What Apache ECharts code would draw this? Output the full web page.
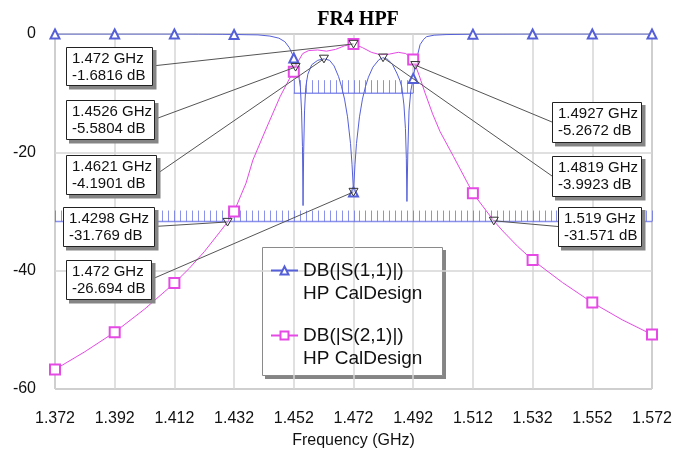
<!DOCTYPE html>
<html><head><meta charset="utf-8">
<script src="https://cdn.jsdelivr.net/npm/echarts@6/dist/echarts.min.js"></script>
<style>html,body{margin:0;padding:0;background:#fff}#c{width:687px;height:454px}</style>
</head><body><div id="c"></div>
<script>
// ---------------- data ----------------
const xTickLabels = ['1.372','1.392','1.412','1.432','1.452','1.472','1.492','1.512','1.532','1.552','1.572'];
const yTickLabels = ['-60','-40','-20','0'];

const s11Name = 'DB(|S(1,1)|)';
const s21Name = 'DB(|S(2,1)|)';
const legendSub = 'HP CalDesign';

const s11Freq = [1.372,1.392,1.412,1.420,1.428,1.432,1.436,1.440,1.444,1.447,1.449,1.4505,1.4515,1.452,
  1.4535,1.4542,1.4546,1.4549,1.4551,1.4553,1.4556,1.456,1.4567,1.458,1.460,1.4621,1.464,1.4655,1.467,1.468,
  1.469,1.470,1.471,1.4715,1.472,1.4725,1.473,1.474,1.475,1.476,1.477,1.4785,1.4805,1.4819,1.4835,1.485,
  1.4865,1.4875,1.4882,1.4889,1.4894,1.4897,1.4899,1.4902,1.4906,1.4912,1.492,1.4927,1.4935,1.4943,1.4955,
  1.4965,1.499,1.503,1.512,1.532,1.552,1.572];
const s11Db = [0,0,0,-0.02,-0.05,-0.08,-0.12,-0.15,-0.35,-0.7,-1.3,-2.3,-3.4,-4.05,
  -6.5,-9,-13,-19,-29,-20,-13,-9,-6.8,-5.2,-4.45,-4.19,-4.45,-5.4,-7.2,-8.9,
  -11,-14,-18.5,-22,-26.694,-22,-18.5,-14,-11,-8.9,-7.3,-5.6,-4.35,-3.99,-4.3,-5.1,
  -6.6,-7.8,-9,-12,-16,-21,-28.3,-20,-13,-9.6,-7.5,-5.3,-3.5,-1.8,-0.9,
  -0.45,-0.2,-0.1,-0.03,0,0,0];

const s21Freq = [1.372,1.382,1.392,1.402,1.412,1.417,1.422,1.427,1.4298,1.432,1.436,1.4383,1.443,1.4474,1.4505,
  1.452,1.4526,1.4535,1.455,1.457,1.460,1.463,1.466,1.469,1.472,1.475,1.478,1.481,1.484,1.487,1.4895,
  1.492,1.4927,1.494,1.496,1.4985,1.501,1.5055,1.512,1.519,1.522,1.527,1.532,1.542,1.552,1.562,1.572];
const s21Db = [-56.7,-53.7,-50.4,-46.5,-42.1,-39.6,-36.8,-33.6,-31.769,-30.0,-25.2,-21.3,-15.7,-10.6,-7.6,
  -6.4,-5.58,-4.6,-3.3,-2.8,-2.7,-2.9,-2.6,-2.0,-1.68,-2.3,-3.1,-3.5,-3.4,-3.1,-3.3,
  -4.3,-5.27,-7.0,-10.0,-13.5,-16.5,-20.7,-26.9,-31.571,-33.3,-35.9,-38.2,-42.0,-45.4,-48.3,-50.8];

// optimisation goals (start GHz, end GHz, level dB)
const goalStart = [1.452, 1.372];
const goalEnd   = [1.492, 1.572];
const goalLevel = [-10, -31.7];
const goalStep  = 0.002;

// markers
const markerFreq = [1.472, 1.4526, 1.4621, 1.4298, 1.472, 1.4927, 1.4819, 1.519];
const markerDb   = [-1.6816, -5.5804, -4.1901, -31.769, -26.694, -5.2672, -3.9923, -31.571];

// ---------------- layout / style ----------------
const labelBoxes = [ // left, top, width, height (px)
  [66, 47, 86, 38], [66, 100, 88, 39], [66, 155, 90, 39], [63, 207, 91, 39], [66, 260, 85, 39],
  [552, 102, 89, 40], [552, 156, 89, 40], [558, 207, 83, 39]
];
const goalTickLen = [13, 11];
const C11 = '#5560d8', C21 = '#e54ae5', CGOAL = 'rgba(100,110,228,0.75)';
const FONT = '"Liberation Sans", Arial, sans-serif';
const SHADOW = '#858585';

const chart = echarts.init(document.getElementById('c'), null, {renderer: 'canvas'});

function curve(freq, db) {
  return freq.map((f, i) => {
    const k = (f - 1.372) / 0.02;
    const on = Math.abs(k - Math.round(k)) < 1e-6;
    return on ? {value: [f, db[i]]} : {value: [f, db[i]], symbol: 'none'};
  });
}

const goalData = goalStart.map((s, i) => [s, goalEnd[i], goalLevel[i], i]);
const markerData = markerFreq.map((f, i) => [f, markerDb[i], i]);

const option = {
  animation: false,
  backgroundColor: '#fff',
  title: {
    text: 'FR4 HPF', left: 353, top: 5, textAlign: 'center',
    textStyle: {fontFamily: '"Liberation Serif", "Times New Roman", serif', fontWeight: 'bold', fontSize: 20, color: '#000'}
  },
  grid: {left: 55, right: 35, top: 34, bottom: 65, show: true, borderColor: '#7a7a7a', borderWidth: 1, backgroundColor: 'transparent'},
  xAxis: {
    type: 'value', min: 1.372, max: 1.572, interval: 0.02,
    name: 'Frequency (GHz)', nameLocation: 'middle', nameGap: 44,
    nameTextStyle: {fontFamily: FONT, fontSize: 16, color: '#111'},
    axisLine: {show: false}, axisTick: {show: false},
    axisLabel: {fontFamily: FONT, fontSize: 16, color: '#111', margin: 22,
      formatter: v => xTickLabels[Math.round((v - 1.372) / 0.02)] || ''},
    splitLine: {show: true, lineStyle: {color: '#d6d6d6', width: 1.5}}
  },
  yAxis: {
    type: 'value', min: -60, max: 0, interval: 20,
    axisLine: {show: false}, axisTick: {show: false},
    axisLabel: {fontFamily: FONT, fontSize: 16, color: '#111', margin: 19,
      formatter: v => yTickLabels[Math.round((v + 60) / 20)] || ''},
    splitLine: {show: true, lineStyle: {color: '#d6d6d6', width: 1.5}}
  },
  legend: {
    orient: 'vertical', left: 261, top: 253, itemGap: 42, itemWidth: 27, itemHeight: 10,
    padding: [6, 10, 6, 9],
    data: [s11Name, s21Name],
    textStyle: {fontFamily: FONT, fontSize: 19, color: '#111', lineHeight: 23},
    inactiveColor: '#ccc'
  },
  graphic: [
    {type: 'rect', left: 265, top: 250, z: 0, silent: true,
      shape: {width: 181, height: 129}, style: {fill: SHADOW}},
    {type: 'rect', left: 262, top: 247, z: 0, silent: true,
      shape: {width: 180, height: 128}, style: {fill: '#fff', stroke: '#8a8a8a', lineWidth: 1}},
    {type: 'text', left: 303, top: 284, z: 10, silent: true,
      style: {text: legendSub, font: '19px ' + FONT, fill: '#111'}},
    {type: 'text', left: 303, top: 349, z: 10, silent: true,
      style: {text: legendSub, font: '19px ' + FONT, fill: '#111'}}
  ],
  series: [
    {
      type: 'custom', name: 'goals', silent: true, clip: false, z: 2,
      data: goalData,
      encode: {x: [0, 1], y: 2},
      renderItem: (params, api) => {
        const s = api.value(0), e = api.value(1), lv = api.value(2), gi = api.value(3);
        const a = api.coord([s, lv]), b = api.coord([e, lv]);
        const children = [{type: 'line', shape: {x1: a[0], y1: a[1], x2: b[0], y2: b[1]}, style: {stroke: CGOAL, lineWidth: 1.5}}];
        const n = Math.round((e - s) / goalStep);
        for (let k = 0; k <= n; k++) {
          const p = api.coord([s + k * goalStep, lv]);
          const x = Math.round(p[0]) + 0.5;
          children.push({type: 'line', shape: {x1: x, y1: p[1], x2: x, y2: p[1] - goalTickLen[gi]}, style: {stroke: CGOAL, lineWidth: 1}});
        }
        return {type: 'group', children};
      }
    },
    {
      type: 'line', name: s11Name, data: curve(s11Freq, s11Db), z: 3,
      symbol: 'emptyTriangle', symbolSize: 9, showAllSymbol: true,
      lineStyle: {color: C11, width: 1}, itemStyle: {color: C11, borderWidth: 1}
    },
    {
      type: 'line', name: s21Name, data: curve(s21Freq, s21Db), z: 3,
      symbol: 'emptyRect', symbolSize: 10, showAllSymbol: true,
      lineStyle: {color: C21, width: 1}, itemStyle: {color: C21, borderWidth: 1}
    },
    {
      type: 'custom', name: 'markers', silent: true, clip: false, z: 6,
      data: markerData,
      encode: {x: 0, y: 1},
      renderItem: (params, api) => {
        const f = api.value(0), db = api.value(1), i = api.value(2);
        const p = api.coord([f, db]);
        const [bx, by, bw, bh] = labelBoxes[i];
        const ax = bx > p[0] ? bx : bx + bw;
        const ay = by + bh / 2;
        const t = 4.5;
        return {type: 'group', children: [
          {type: 'line', shape: {x1: ax, y1: ay, x2: p[0], y2: p[1]}, style: {stroke: '#555', lineWidth: 1}},
          {type: 'polygon', shape: {points: [[p[0] - t, p[1] - t * 0.8], [p[0] + t, p[1] - t * 0.8], [p[0], p[1] + t * 0.9]]},
            style: {fill: 'rgba(255,255,255,0.3)', stroke: '#333', lineWidth: 1}},
          {type: 'rect', shape: {x: bx + 3, y: by + 3, width: bw + 1.5, height: bh + 1.5}, style: {fill: SHADOW}},
          {type: 'rect', shape: {x: bx + 0.5, y: by + 0.5, width: bw, height: bh},
            style: {fill: '#fff', stroke: '#222', lineWidth: 1}},
          {type: 'text', x: bx + 6, y: by + 3,
            style: {text: f + ' GHz\n' + db + ' dB', font: '15px ' + FONT, fill: '#111', lineHeight: 17}}
        ]};
      }
    }
  ]
};
chart.setOption(option);
</script></body></html>
